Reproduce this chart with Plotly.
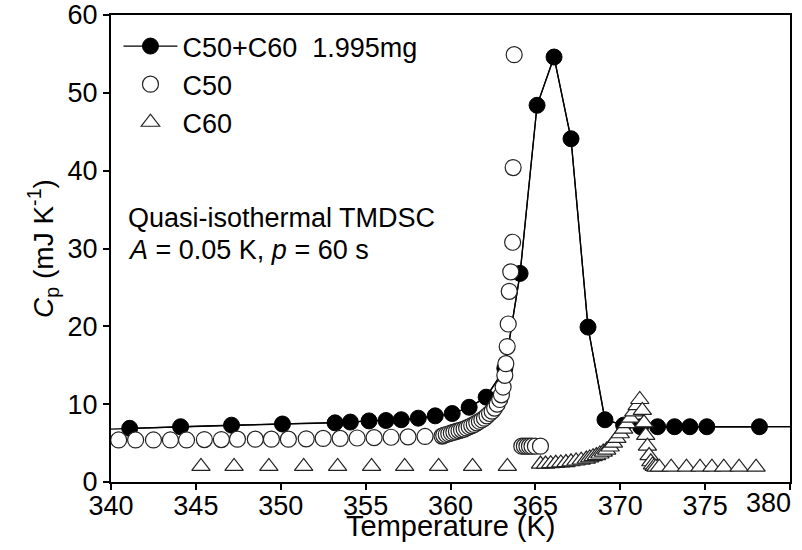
import plotly.graph_objects as go

# C50+C60 1.995 mg (filled circles, connected)
mix_T = [341.1, 344.1, 347.1, 350.1, 353.2, 354.1, 355.2, 356.2, 357.1, 358.1, 359.1, 360.1,
         361.1, 362.1, 363.2, 364.1, 365.1, 366.1, 367.1, 368.1, 369.1, 370.2, 371.2, 372.2,
         373.2, 374.1, 375.1, 378.2]
mix_Cp = [6.9, 7.1, 7.3, 7.45, 7.6, 7.7, 7.85, 7.9, 8.0, 8.2, 8.5, 8.8,
          9.6, 10.9, 14.6, 26.8, 48.4, 54.6, 44.1, 19.9, 8.0, 7.3, 7.1, 7.1,
          7.1, 7.1, 7.1, 7.1]
# baseline ends of the drawn curve (at the axis limits)
mix_line_start = (340.0, 6.8)
mix_line_end = (380.0, 7.1)

# C50 (open circles)
c50_T = [340.45, 341.45, 342.5, 343.5, 344.45, 345.5, 346.5, 347.45, 348.5, 349.45,
         350.45, 351.5, 352.5, 353.5, 354.5, 355.5, 356.5, 357.5, 358.5, 359.5,
         359.6, 359.75, 359.9, 360.05, 360.2, 360.35, 360.5, 360.65, 360.8, 360.95,
         361.1, 361.25, 361.4, 361.55, 361.7, 361.85, 362.0, 362.15, 362.3, 362.45,
         362.6, 362.75, 362.9, 363.0, 363.1, 363.2, 363.26, 363.34, 363.4, 363.46,
         363.55, 363.66, 363.69, 363.75,
         364.2, 364.35, 364.5, 364.65, 364.8, 365.0, 365.3]
c50_Cp = [5.4, 5.4, 5.4, 5.4, 5.4, 5.45, 5.45, 5.5, 5.5, 5.5,
          5.5, 5.55, 5.6, 5.6, 5.65, 5.7, 5.75, 5.8, 5.85, 5.9,
          6.0, 6.1, 6.2, 6.3, 6.4, 6.5, 6.6, 6.7, 6.8, 6.95,
          7.1, 7.25, 7.4, 7.6, 7.8, 8.0, 8.2, 8.5, 8.8, 9.1,
          9.5, 10.0, 10.6, 11.2, 12.2, 13.7, 15.2, 17.4, 20.3, 24.5,
          27.0, 30.8, 40.4, 54.9,
          4.6, 4.6, 4.6, 4.6, 4.6, 4.6, 4.6]

# C60 (open triangles)
c60_T = [345.3, 347.25, 349.3, 351.35, 353.35, 355.35, 357.3, 359.3, 361.3, 363.35,
         365.3, 365.6, 365.9, 366.2, 366.5, 366.8, 367.1, 367.4, 367.7, 368.0,
         368.2, 368.4, 368.6, 368.8, 369.0, 369.2, 369.4, 369.6, 369.8, 370.0,
         370.2, 370.4, 370.6, 370.8, 371.0, 371.15,
         371.3, 371.4, 371.5, 371.6, 371.7, 371.8, 371.9, 372.0, 372.1,
         372.3, 373.0, 373.9, 374.7, 375.4, 376.1, 377.0, 378.0]
c60_Cp = [2.0, 2.0, 2.0, 2.0, 2.0, 2.0, 2.0, 2.0, 2.0, 2.0,
          2.3, 2.3, 2.35, 2.4, 2.45, 2.5, 2.6, 2.7, 2.8, 2.95,
          3.1, 3.25, 3.4, 3.6, 3.85, 4.1, 4.5, 5.0, 5.6, 6.2,
          6.8, 7.5, 8.2, 9.0, 9.8, 10.6,
          9.2, 7.6, 6.0, 4.6, 3.4, 2.6, 2.2, 2.0, 1.9,
          1.9, 1.9, 1.9, 1.9, 1.9, 1.9, 1.9, 1.9]

x_ticks = [340, 345, 350, 355, 360, 365, 370, 375, 380]
x_ticklabels = ["340", "345", "350", "355", "360", "365", "370", "375", "380"]
y_ticks = [0, 10, 20, 30, 40, 50, 60]

FONT = "Liberation Sans, Arial, sans-serif"

fig = go.Figure()

# connecting curve for the mixture, extended to the axis limits
fig.add_trace(go.Scatter(
    x=[mix_line_start[0]] + mix_T + [mix_line_end[0]],
    y=[mix_line_start[1]] + mix_Cp + [mix_line_end[1]],
    mode="lines", line=dict(color="black", width=1.3),
    showlegend=False, hoverinfo="skip"))

fig.add_trace(go.Scatter(
    x=mix_T, y=mix_Cp, mode="lines+markers", name="C50+C60  1.995mg",
    line=dict(color="black", width=1.3),
    marker=dict(symbol="circle", size=16, color="black",
                line=dict(color="black", width=1))))

fig.add_trace(go.Scatter(
    x=c50_T, y=c50_Cp, mode="markers", name="C50",
    marker=dict(symbol="circle", size=16, color="white",
                line=dict(color="#222222", width=1.2))))

fig.add_trace(go.Scatter(
    x=c60_T, y=c60_Cp, mode="markers", name="C60",
    marker=dict(symbol="triangle-up", size=16, color="white",
                line=dict(color="#222222", width=1.2))))

# the last x tick label is pulled inside the figure edge, as in the original
ticktext = x_ticklabels[:-1] + [""]
annotations = [
    dict(text=x_ticklabels[-1], xref="x", yref="paper", x=x_ticks[-1], y=-0.045,
         xanchor="right", yanchor="middle", xshift=3, showarrow=False,
         font=dict(family=FONT, size=27, color="black")),
    dict(text="Temperature (K)", xref="paper", yref="paper", x=0.5, y=-0.094,
         xanchor="center", yanchor="middle", showarrow=False,
         font=dict(family=FONT, size=29, color="black")),
    dict(text="Quasi-isothermal TMDSC", xref="paper", yref="paper",
         x=0.022, y=0.565, xanchor="left", yanchor="middle", showarrow=False,
         font=dict(family=FONT, size=27, color="black")),
    dict(text="<i>A</i> = 0.05 K, <i>p</i> = 60 s", xref="paper", yref="paper",
         x=0.022, y=0.497, xanchor="left", yanchor="middle", showarrow=False,
         font=dict(family=FONT, size=27, color="black")),
]

fig.update_layout(
    width=802, height=550,
    margin=dict(l=111, r=12, t=15, b=68, autoexpand=False),
    paper_bgcolor="white", plot_bgcolor="white",
    font=dict(family=FONT, size=27, color="black"),
    showlegend=True,
    legend=dict(x=0.011, y=0.985, xanchor="left", yanchor="top",
                bgcolor="rgba(0,0,0,0)", borderwidth=0,
                font=dict(family=FONT, size=27, color="black"),
                itemwidth=54, tracegroupgap=0),
    annotations=annotations,
)

fig.update_xaxes(
    range=[340, 380], tickvals=x_ticks, ticktext=ticktext,
    showgrid=False, zeroline=False, automargin=False,
    ticklabelstandoff=-7,
    showline=True, linecolor="black", linewidth=2, mirror=True,
    ticks="outside", ticklen=6, tickwidth=2, tickcolor="black",
    tickfont=dict(family=FONT, size=27, color="black"))

fig.update_yaxes(
    range=[0, 60], tickvals=y_ticks, ticktext=[str(v) for v in y_ticks],
    showgrid=False, zeroline=False, automargin=False,
    showline=True, linecolor="black", linewidth=2, mirror=True,
    ticks="outside", ticklen=6, tickwidth=2, tickcolor="black",
    tickfont=dict(family=FONT, size=27, color="black"),
    title=dict(text="<i>C</i><sub>p</sub> (mJ K<sup>-1</sup>)",
               font=dict(family=FONT, size=28, color="black"), standoff=6))

fig.write_html("out.html", config={"displayModeBar": False},
               post_script="document.body.style.margin='0';document.body.style.overflow='hidden';")
